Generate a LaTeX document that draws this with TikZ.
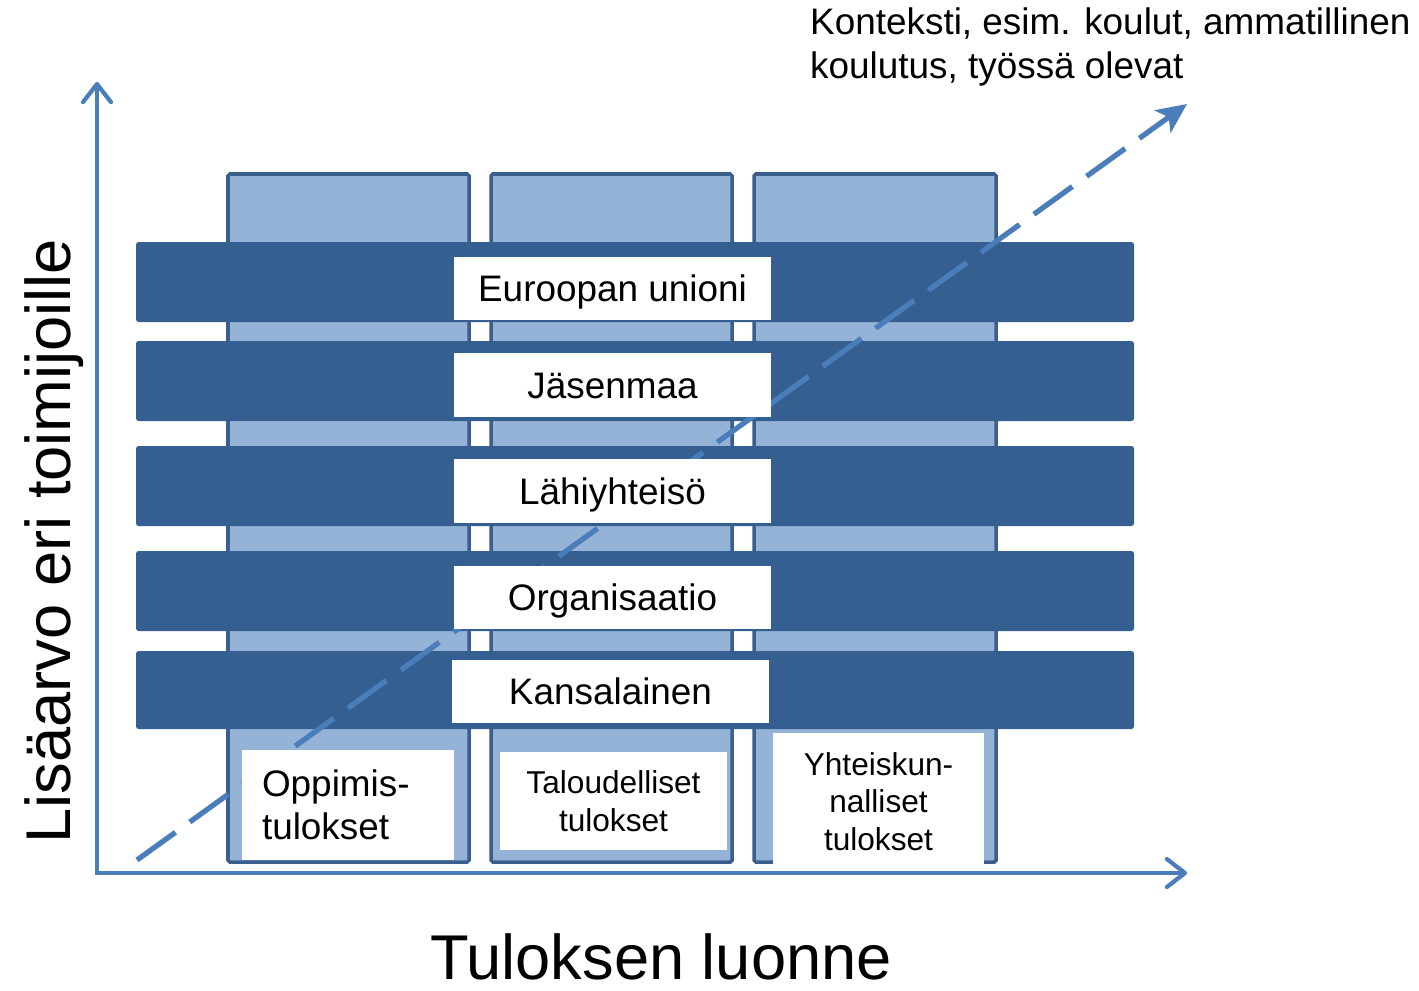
\documentclass[tikz,border=0pt]{standalone}
\usepackage{fontspec}
\setmainfont{Liberation Sans}
\usetikzlibrary{arrows.meta}
\definecolor{axisblue}{HTML}{4A7EBB}
\definecolor{bandblue}{HTML}{365F91}
\definecolor{pillarblue}{HTML}{95B3D7}
\definecolor{pillaredge}{HTML}{3A5F8D}
\tikzset{
  pillar/.style={fill=pillarblue,draw=pillaredge,line width=2pt,rounded corners=1pt},
  band/.style={fill=bandblue,rounded corners=1.5pt},
  tag/.style={fill=white,minimum width=6.34cm,minimum height=1.27cm,inner sep=0pt,text height=17pt,text depth=2pt,font=\fontsize{21}{25}\selectfont},
  result/.style={fill=white,inner sep=0pt,align=center,font=\fontsize{18}{21.5}\selectfont},
  axis/.style={axisblue,line width=2.4pt,{Straight Barb[length=3.6mm,width=5.6mm,round]}-{Straight Barb[length=3.6mm,width=5.6mm,round]}},
  bigtext/.style={inner sep=0pt,font=\fontsize{36}{40}\selectfont}
}
\begin{document}
\begin{tikzpicture}[x=0.02cm,y=-0.02cm]
\useasboundingbox (0,0) rectangle (1419,990);
% pillars
\draw[pillar] (228,174) rectangle (469,862);
\draw[pillar] (491,174) rectangle (732,862);
\draw[pillar] (754,174) rectangle (996,862);
% bands
\fill[band] (136,242) rectangle (1134,322);
\fill[band] (136,341) rectangle (1134,421);
\fill[band] (136,446) rectangle (1134,526);
\fill[band] (136,551) rectangle (1134,631);
\fill[band] (136,651) rectangle (1134,729);
% context arrow
\coordinate (dstart) at (137,860);
\coordinate (dend) at (1187,104);
\draw[axisblue,line width=3pt,dash pattern=on 27pt off 10pt,-{Stealth[length=6mm,width=5.5mm,inset=1.5mm]}] (dstart) -- (dend);
\node[tag] (eu) at (612.5,288.5) {Euroopan unioni};
\node[tag] (member) at (612.5,385) {Jäsenmaa};
\node[tag] (local) at (612.5,491) {Lähiyhteisö};
\node[tag] (org) at (612.5,597.5) {Organisaatio};
\node[tag] (citizen) at (610.5,691.5) {Kansalainen};
\node[result,inner xsep=0.4cm,text width=3.44cm,minimum height=2.2cm,align=left,font=\fontsize{21}{24.4}\selectfont] (learning) at (348,805) {Oppimis-\\tulokset};
\node[result,minimum width=4.54cm,minimum height=1.96cm] (economic) at (613.5,801) {Taloudelliset\\tulokset};
\node[result,minimum width=4.22cm,minimum height=2.74cm] (social) at (878.5,801.5) {Yhteiskun-\\nalliset\\tulokset};
% axes
\coordinate (origin) at (97,873);
\coordinate (ytip) at (97,82);
\coordinate (xtip) at (1187,873);
\draw[axis] (ytip) -- (origin) -- (xtip);
\node[bigtext,rotate=90,anchor=base] (ylabel) at (70,541) {Lisäarvo eri toimijoille};
\node[bigtext,anchor=base] (xlabel) at (661,979) {Tuloksen luonne};
\node[anchor=west,align=left,font=\fontsize{21}{25.5}\selectfont] (context) at (804,47) {Konteksti, esim. koulut, ammatillinen\\koulutus, työssä olevat};
\end{tikzpicture}
\end{document}
